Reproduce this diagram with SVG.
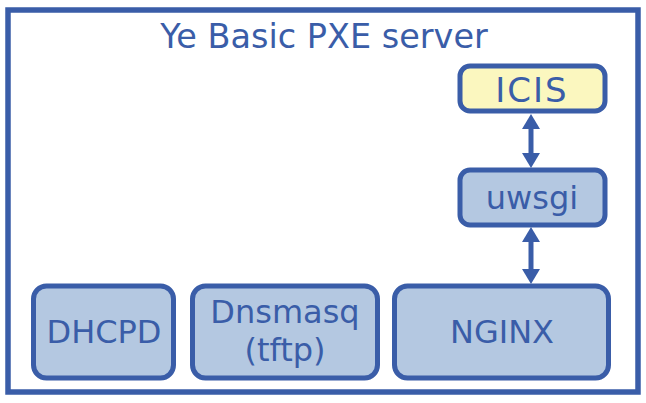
<svg xmlns="http://www.w3.org/2000/svg" width="646" height="403" viewBox="0 0 646 403">
<defs>
<style>
.box{fill:#b4c8e1;stroke:#3a5da8;stroke-width:5}
.yel{fill:#fbf7bf}
.t{font-family:"DejaVu Sans","Verdana",sans-serif;font-size:32px;fill:#3a5da8;text-anchor:middle}
.conn{stroke:#3a5da8;stroke-width:5;fill:none}
</style>
<marker id="ah" viewBox="0 0 15 18" refX="2" refY="9" markerWidth="15" markerHeight="18" markerUnits="userSpaceOnUse" orient="auto-start-reverse">
<path d="M0,0 L15,9 L0,18 z" fill="#3a5da8"/>
</marker>
</defs>
<rect x="0" y="0" width="646" height="403" fill="#ffffff"/>
<g id="frame">
<rect x="8" y="10" width="630" height="382" fill="#ffffff" stroke="#3a5da8" stroke-width="5.5"/>
<text class="t" x="324" y="48" style="font-size:33.5px">Ye Basic PXE server</text>
</g>
<g id="connectors">
<line class="conn" x1="531" y1="127" x2="531" y2="155" marker-start="url(#ah)" marker-end="url(#ah)"/>
<line class="conn" x1="531" y1="240" x2="531" y2="271" marker-start="url(#ah)" marker-end="url(#ah)"/>
</g>
<g id="icis">
<rect class="box yel" x="460" y="66" width="145" height="45" rx="10"/>
<text class="t" x="532" y="102" style="font-size:34px;letter-spacing:2px">ICIS</text>
</g>
<g id="uwsgi">
<rect class="box" x="460" y="170" width="145" height="55" rx="10"/>
<text class="t" x="532" y="209">uwsgi</text>
</g>
<g id="dhcpd">
<rect class="box" x="33.5" y="286" width="140" height="92" rx="13"/>
<text class="t" x="104" y="343">DHCPD</text>
</g>
<g id="dnsmasq">
<rect class="box" x="192.5" y="286" width="185" height="92" rx="13"/>
<text class="t" x="285" y="323">Dnsmasq</text>
<text class="t" x="285" y="361">(tftp)</text>
</g>
<g id="nginx">
<rect class="box" x="394.5" y="286" width="214" height="92" rx="13"/>
<text class="t" x="502" y="343">NGINX</text>
</g>
</svg>
